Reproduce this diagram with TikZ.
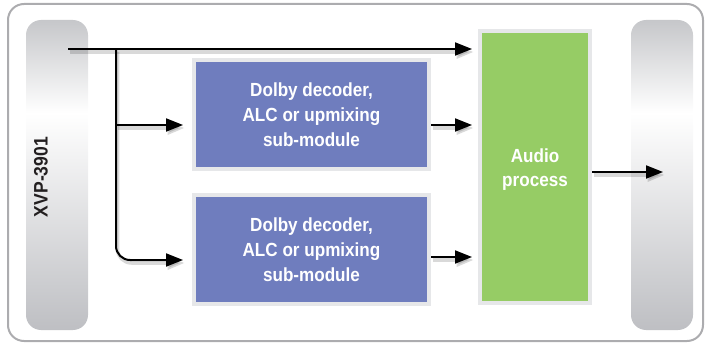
\documentclass[tikz,border=0pt]{standalone}
\usepackage{fontspec}
\setmainfont{Liberation Sans}
\newfontfamily\labfont[FakeStretch=0.9]{Liberation Sans}
\usetikzlibrary{arrows.meta,calc}
\definecolor{frameC}{RGB}{172,172,175}
\definecolor{barT}{RGB}{198,199,202}
\definecolor{barB}{RGB}{190,191,195}
\definecolor{blueC}{RGB}{111,125,190}
\definecolor{greenC}{RGB}{150,204,101}
\definecolor{rimC}{RGB}{230,231,233}
\definecolor{textD}{RGB}{35,31,32}
\pgfdeclareverticalshading{barshade}{100bp}{color(0bp)=(barB); color(25bp)=(barB); color(60bp)=(white); color(75bp)=(barT); color(100bp)=(barT)}
\begin{document}
\begin{tikzpicture}[x=1pt,y=-1pt,
  bar/.style={rectangle, rounded corners=15pt, shading=barshade, minimum width=62pt, minimum height=310pt, inner sep=0pt, outer sep=0pt},
  mod/.style={rectangle, fill=blueC, draw=rimC, line width=4pt, minimum width=235pt, minimum height=109pt, inner sep=0pt, text=white, font=\labfont\bfseries\fontsize{19}{25}\selectfont, align=center},
  proc/.style={rectangle, fill=greenC, draw=rimC, line width=4pt, minimum width=110pt, minimum height=272pt, inner sep=0pt},
  lbl/.style={text=white, font=\labfont\bfseries\fontsize{19}{24}\selectfont, align=center, inner sep=0pt},
  conn/.style={line width=2pt, -{Triangle[length=17pt,width=13pt]},
    preaction={draw=black, opacity=0.15, line width=3.5pt, transform canvas={shift={(1.5pt,-3pt)}}}}
]
\useasboundingbox (0,0) rectangle (705,345);
\draw[frameC, line width=2pt, rounded corners=16pt] (8,4) rectangle (703,341);
\node[bar] (L) at (57,175) {};
\node[bar] (R) at (662,175) {};
\node[text=textD, font=\labfont\bfseries\fontsize{19.5}{20}\selectfont, rotate=90, inner sep=0pt] (Lt) at (41,177) {XVP-3901};
\node[mod] (d1) at (311.5,114.5) {Dolby decoder,\\ALC or upmixing\\sub-module};
\node[mod] (d2) at (311.5,249.5) {Dolby decoder,\\ALC or upmixing\\sub-module};
\node[proc] (ap) at (535,167) {};
\node[lbl] (apt) at (535,170) {Audio\\process};
\coordinate (src) at (68,49);
\coordinate (br) at (116,49);
\coordinate (j1) at (116,125);
\coordinate (j2) at (116,260);
\coordinate (outc) at (663,172);
\draw[conn, shorten >=6pt] (src) -- (src -| ap.west);
\draw[conn, rounded corners=14pt, shorten >=9pt] (br) |- (j2 -| d2.west);
\draw[conn, shorten >=9pt] (j1) -- (j1 -| d1.west);
\draw[conn, shorten >=6pt] (d1.east |- j1) -- (ap.west |- j1);
\draw[conn, shorten >=6pt] (d2.east |- 0,257) -- (ap.west |- 0,257);
\draw[conn] (ap.east |- outc) -- (outc);
\end{tikzpicture}
\end{document}
